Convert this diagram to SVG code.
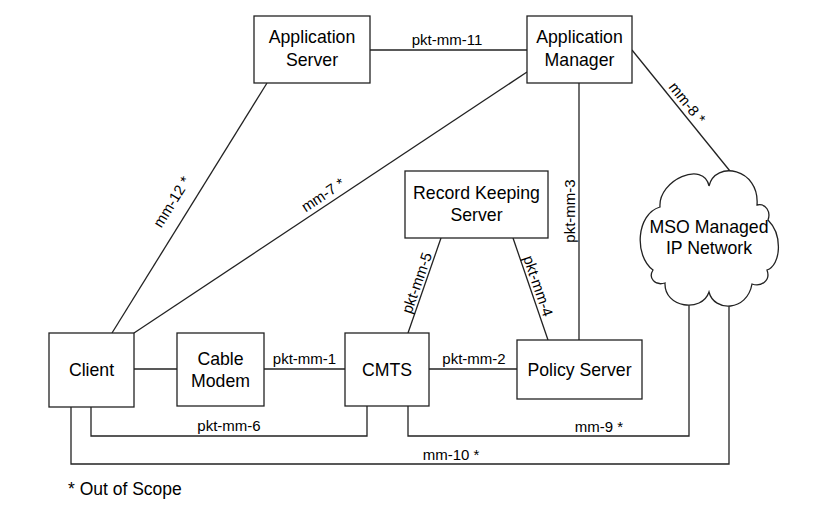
<svg xmlns="http://www.w3.org/2000/svg" width="826" height="511" viewBox="0 0 826 511">
<style>
.box{fill:#fff;stroke:#222;stroke-width:1.3}
.ln{fill:none;stroke:#222;stroke-width:1.3}
.nt{font-family:"Liberation Sans",Arial,sans-serif;font-size:17.7px;fill:#000;text-anchor:middle}
.lb{font-family:"Liberation Sans",Arial,sans-serif;font-size:15px;fill:#000;text-anchor:middle}
.lg{font-family:"Liberation Sans",Arial,sans-serif;font-size:17.5px;fill:#000}
</style>
<rect width="826" height="511" fill="#fff"/>
<g id="connectors">
<line class="ln" x1="370" y1="50" x2="527" y2="50"/>
<text class="lb" x="447" y="45">pkt-mm-11</text>
<line class="ln" x1="267" y1="83" x2="112" y2="333"/>
<text class="lb" transform="translate(172,202) rotate(-58.2)" y="5">mm-12 *</text>
<line class="ln" x1="134" y1="333" x2="527" y2="72"/>
<text class="lb" transform="translate(323,195) rotate(-33.6)" y="5">mm-7 *</text>
<line class="ln" x1="632" y1="50" x2="734" y2="176"/>
<text class="lb" transform="translate(687,103) rotate(51)" y="5">mm-8 *</text>
<line class="ln" x1="579" y1="83" x2="579" y2="340"/>
<text class="lb" transform="translate(575,211) rotate(-90)">pkt-mm-3</text>
<line class="ln" x1="441" y1="238" x2="408" y2="333"/>
<text class="lb" transform="translate(417,283) rotate(-70.8)" y="5">pkt-mm-5</text>
<line class="ln" x1="513" y1="238" x2="548" y2="340"/>
<text class="lb" transform="translate(538,286) rotate(71)" y="5">pkt-mm-4</text>
<line class="ln" x1="134" y1="369" x2="177" y2="369"/>
<line class="ln" x1="264" y1="369" x2="345" y2="369"/>
<text class="lb" x="304.5" y="364">pkt-mm-1</text>
<line class="ln" x1="429" y1="369" x2="517" y2="369"/>
<text class="lb" x="474" y="364">pkt-mm-2</text>
<polyline class="ln" points="91,407 91,436 367,436 367,406"/>
<text class="lb" x="229" y="431">pkt-mm-6</text>
<polyline class="ln" points="408,406 408,436 689,436 689,290"/>
<text class="lb" x="599" y="432">mm-9 *</text>
<polyline class="ln" points="71,407 71,464 729,464 729,290"/>
<text class="lb" x="451" y="460">mm-10 *</text>
</g>
<g id="app-server">
<rect class="box" x="254" y="16" width="116" height="67"/>
<text class="nt" x="312" y="43">Application</text>
<text class="nt" x="312" y="66">Server</text>
</g>
<g id="app-manager">
<rect class="box" x="527" y="16" width="105" height="67"/>
<text class="nt" x="579.5" y="43">Application</text>
<text class="nt" x="579.5" y="66">Manager</text>
</g>
<g id="record-keeping-server">
<rect class="box" x="405" y="171" width="143" height="67"/>
<text class="nt" x="476.5" y="199">Record Keeping</text>
<text class="nt" x="476.5" y="221">Server</text>
</g>
<g id="client">
<rect class="box" x="49" y="333" width="85" height="74"/>
<text class="nt" x="91.5" y="376">Client</text>
</g>
<g id="cable-modem">
<rect class="box" x="177" y="333" width="87" height="73"/>
<text class="nt" x="220.5" y="365">Cable</text>
<text class="nt" x="220.5" y="387">Modem</text>
</g>
<g id="cmts">
<rect class="box" x="345" y="333" width="84" height="73"/>
<text class="nt" x="387" y="376">CMTS</text>
</g>
<g id="policy-server">
<rect class="box" x="517" y="340" width="125" height="59"/>
<text class="nt" x="579.5" y="376">Policy Server</text>
</g>
<g id="mso-network">
<path class="box" d="M660,207 C658,180 704,160 709,186 C715,160 760,168 757,205 C766,203 771,212 768,220 C783,235 781,265 767,270 C771,281 761,287 752,284 C747,312 714,312 709,292 C702,313 664,308 665,283 C655,286 648,278 653,270 C634,256 636,214 660,207 Z"/>
<text class="nt" x="709" y="233">MSO Managed</text>
<text class="nt" x="709" y="254">IP Network</text>
</g>
<text class="lg" x="68" y="495">* Out of Scope</text>
</svg>
